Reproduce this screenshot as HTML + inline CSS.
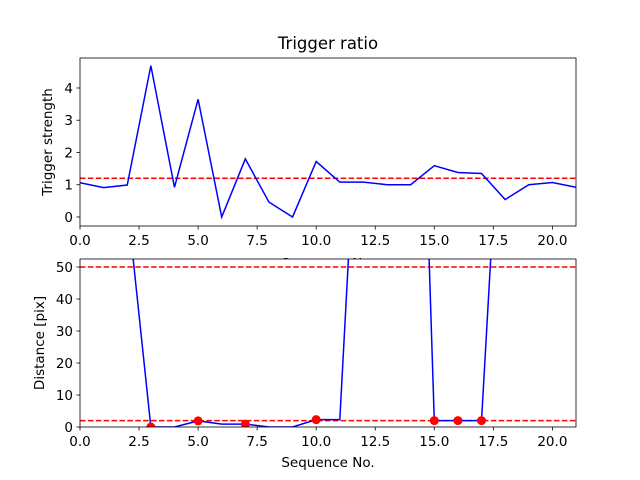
<!DOCTYPE html>
<html><head><meta charset="utf-8"><style>
body{margin:0;background:#fff}
svg{display:block;font-family:"DejaVu Sans","Liberation Sans",sans-serif}
</style></head><body>
<svg id="chart" width="640" height="480" viewBox="0 0 640 480">
<defs>
<clipPath id="c1"><rect x="80" y="58" width="496" height="168"/></clipPath>
<clipPath id="c2"><rect x="80" y="259" width="496" height="168"/></clipPath>
</defs>
</svg>
<script>
const seq = [0,1,2,3,4,5,6,7,8,9,10,11,12,13,14,15,16,17,18,19,20,21];
const triggerStrength = [1.06,0.91,0.99,4.69,0.92,3.65,0.0,1.8,0.46,0.0,1.72,1.08,1.08,1.0,1.0,1.59,1.38,1.35,0.54,1.0,1.07,0.92];
const triggerThreshold = 1.2;
const distance = [150,150,70,0,0,1.9,0.9,0.9,0,0,2.3,2.3,140,150,232,2,2,2,132,150,150,150];
const markerIdx = [3,5,7,10,15,16,17];
const distThresholds = [50,2];
const xTicks = [0,2.5,5,7.5,10,12.5,15,17.5,20];
const xTickLabels = ["0.0","2.5","5.0","7.5","10.0","12.5","15.0","17.5","20.0"];
const yTicks1 = [0,1,2,3,4];
const yTicks2 = [0,10,20,30,40,50];

const NS="http://www.w3.org/2000/svg";
const svg=document.getElementById('chart');
function mk(tag,attrs,parent){const e=document.createElementNS(NS,tag);for(const k in attrs)e.setAttribute(k,attrs[k]);(parent||svg).appendChild(e);return e;}
const L=80,R=576,xmin=0,xmax=21;
const sx=v=>L+(v-xmin)/(xmax-xmin)*(R-L);
const FS=13.5;

function panel(top,bot,ymin,ymax,yTicks,name){
  const sy=v=>bot-(v-ymin)/(ymax-ymin)*(bot-top);
  const g=mk('g',{});
  
  
  const bg=mk('rect',{x:L,y:top,width:R-L,height:bot-top,fill:'#fff'},g);
  
  
  xTicks.forEach((t,i)=>{
    mk('line',{x1:sx(t),x2:sx(t),y1:bot,y2:bot+3.5,stroke:'#000','stroke-width':0.8},g);
    const tx=mk('text',{x:sx(t),y:bot+19,'font-size':FS,'text-anchor':'middle'},g);
    tx.textContent=xTickLabels[i];
    
    
  });
  yTicks.forEach(t=>{
    mk('line',{x1:L-3.5,x2:L,y1:sy(t),y2:sy(t),stroke:'#000','stroke-width':0.8},g);
    const tx=mk('text',{x:L-7,y:sy(t)+5,'font-size':FS,'text-anchor':'end'},g);
    tx.textContent=String(t);
    
    
  });
  return {g,sy};
}

// top panel
const p1=panel(58,226,-0.28,4.93,yTicks1,'trigger-panel');
const xl1=mk('text',{x:328,y:268,'font-size':FS,'text-anchor':'middle'});
xl1.textContent='Sequence No.';


const cg1=mk('g',{'clip-path':'url(#c1)'},p1.g);
const th1=mk('line',{x1:L,x2:R,y1:p1.sy(triggerThreshold),y2:p1.sy(triggerThreshold),stroke:'#f00','stroke-width':1.5,'stroke-dasharray':'5.5,2.4'},cg1);


const l1=mk('polyline',{points:seq.map((s,i)=>sx(s)+','+p1.sy(triggerStrength[i])).join(' '),fill:'none',stroke:'#00f','stroke-width':1.5},cg1);


const f1=mk('rect',{x:L,y:58,width:R-L,height:168,fill:'none',stroke:'#000','stroke-width':0.8},p1.g);


const t1=mk('text',{x:328,y:49,'font-size':16.5,'text-anchor':'middle'});
t1.textContent='Trigger ratio';


const yl1=mk('text',{x:0,y:0,'font-size':FS,'text-anchor':'middle',transform:'translate(52,142) rotate(-90)'});
yl1.textContent='Trigger strength';



// bottom panel
const p2=panel(259,427,0,52.5,yTicks2,'distance-panel');
const cg2=mk('g',{'clip-path':'url(#c2)'},p2.g);
distThresholds.forEach(v=>{
  const l=mk('line',{x1:L,x2:R,y1:p2.sy(v),y2:p2.sy(v),stroke:'#f00','stroke-width':1.5,'stroke-dasharray':'5.5,2.4'},cg2);
  
  
});
const l2=mk('polyline',{points:seq.map((s,i)=>sx(s)+','+p2.sy(distance[i])).join(' '),fill:'none',stroke:'#00f','stroke-width':1.5},cg2);


markerIdx.forEach(i=>{
  const c=mk('circle',{cx:sx(seq[i]),cy:p2.sy(distance[i]),r:4.5,fill:'#f00'},cg2);
  
  
});
const f2=mk('rect',{x:L,y:259,width:R-L,height:168,fill:'none',stroke:'#000','stroke-width':0.8},p2.g);


const xl2=mk('text',{x:328,y:467,'font-size':FS,'text-anchor':'middle'});
xl2.textContent='Sequence No.';


const yl2=mk('text',{x:0,y:0,'font-size':FS,'text-anchor':'middle',transform:'translate(44,343) rotate(-90)'});
yl2.textContent='Distance [pix]';


</script>
</body></html>
